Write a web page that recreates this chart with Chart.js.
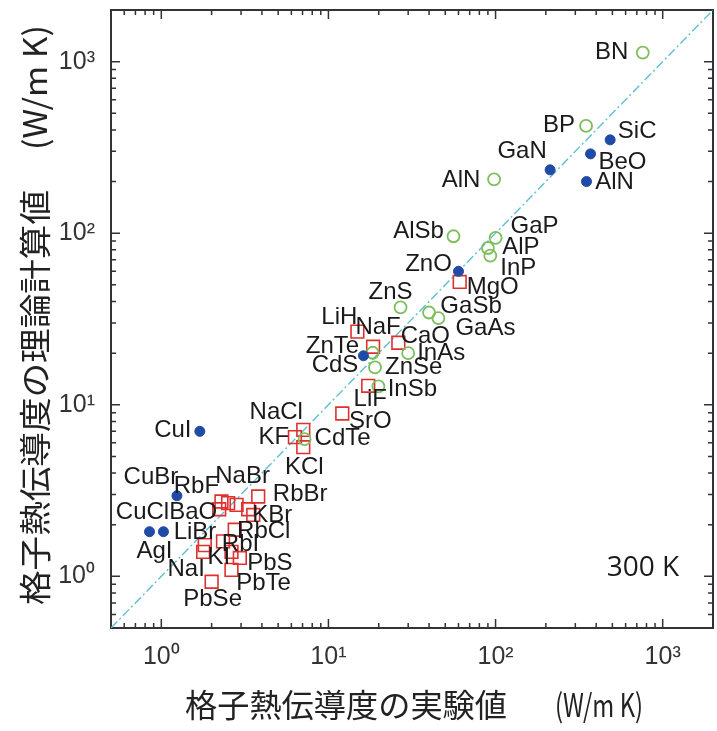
<!DOCTYPE html>
<html lang="ja">
<head>
<meta charset="utf-8">
<title>格子熱伝導度 実験値と理論計算値</title>
<script src="https://cdn.jsdelivr.net/npm/chart.js@4.4.1/dist/chart.umd.min.js"></script>
<style>
	html, body { margin: 0; padding: 0; background: #fff; }
	#wrap { width: 717px; height: 731px; }
</style>
</head>
<body>
<div id="wrap"><canvas id="kappaChart" width="717" height="731"></canvas></div>
<script>
// axis range and ticks (both axes, W/m K)
const axisMin = 0.5;
const axisMax = 2000;
const tickValues = [1, 10, 100, 1000];
const tickLabels = ["10⁰", "10¹", "10²", "10³"];

// blue filled circles
const blueNames = ["AlN", "BeO", "SiC", "GaN", "ZnO", "ZnTe", "CuI", "CuBr", "CuCl", "AgI"];
const blueExp   = [350, 370, 485, 212, 60, 16.2, 1.7, 1.24, 0.85, 1.03];
const blueCalc  = [200, 290, 350, 234, 60, 19.3, 7.0, 2.95, 1.82, 1.82];

// green open circles
const greenNames = ["BN", "BP", "AlN", "AlSb", "GaP", "AlP", "InP", "ZnS", "GaSb", "GaAs", "InAs", "CdS", "ZnSe", "InSb", "CdTe"];
const greenExp   = [760, 348, 98, 56, 100, 90, 93, 27, 40, 45.5, 30, 19, 18.4, 19.9, 7.2];
const greenCalc  = [1130, 422, 206, 96, 94, 82, 74, 37, 34.5, 32, 20, 16.5, 20.1, 12.8, 6.3];

// red open squares
const redNames = ["MgO", "LiH", "NaF", "CaO", "LiF", "SrO", "NaCl", "KF", "KCl", "RbF", "BaO", "NaBr", "", "RbBr", "KBr", "", "RbCl", "LiBr", "RbI", "KI", "NaI", "PbS", "PbTe", "PbSe"];
const redExp   = [61, 14.9, 18.5, 26.2, 17.3, 12.1, 7.07, 6.3, 7.07, 2.29, 2.22, 2.82, 2.51, 3.8, 3.31, 3.55, 2.75, 2.34, 2.63, 1.82, 1.78, 2.95, 2.63, 2.0];
const redCalc  = [52, 26.7, 21.8, 23, 12.9, 8.9, 7.14, 6.48, 5.66, 2.73, 2.46, 2.61, 2.67, 2.92, 2.46, 2.28, 1.87, 1.6, 1.39, 1.52, 1.39, 1.28, 1.09, 0.93];

// y = x guide
const diagonal = [axisMin, axisMax];

// label placement: pixel shift from marker centre to label centre
const blueShift = [[28, 1], [32, 8], [27, -8], [-28, -18], [-30, -7], [-31, -9], [-27, -1], [-26, -18], [-7, -19], [-9, 20]];
const greenShift = [[-31, 0], [-27, -1], [-33, 1], [-35, -5], [39, -11], [33, -1], [28, 13], [-10, -15], [42, -6], [47, 10], [33, 0], [-40, -2], [41, 15], [34, 3], [38, -1]];
const redShift = [[33, 5], [-18, -14], [5, -19], [27, -6], [2, 14], [28, 8], [-27, -18], [-21, 0], [1, 20], [-25, -15], [-26, 3], [6, -28], [0, 0], [42, -2], [24, 6], [0, 0], [29, 2], [-28, -9], [9, -7], [14, 12], [-17, 18], [30, 5], [32, 13], [1, 18]];

function toPoints(xs, ys) {
	return xs.map((v, i) => ({ x: v, y: ys[i] }));
}

// stretch a string horizontally to a given width
function fitText(ctx, text, x, y, w) {
	const natural = ctx.measureText(text).width;
	ctx.save();
	ctx.translate(x, y);
	ctx.scale(w / natural, 1);
	ctx.fillText(text, 0, 0);
	ctx.restore();
}

const frameTicks = {
	id: "frameTicks",
	beforeDatasetsDraw(chart) {
		const { ctx, chartArea: a, scales: { x, y } } = chart;
		ctx.save();
		ctx.strokeStyle = "#333";
		ctx.lineWidth = 1.5;
		ctx.beginPath();
		for (let d = 0.1; d <= 1000; d *= 10) {
			for (let m = 1; m <= 9; m++) {
				const v = d * m;
				if (v <= axisMin || v >= axisMax) continue;
				const len = m === 1 ? 9 : 5;
				const px = x.getPixelForValue(v);
				const py = y.getPixelForValue(v);
				ctx.moveTo(px, a.bottom); ctx.lineTo(px, a.bottom - len);
				ctx.moveTo(px, a.top); ctx.lineTo(px, a.top + len);
				ctx.moveTo(a.left, py); ctx.lineTo(a.left + len, py);
				ctx.moveTo(a.right, py); ctx.lineTo(a.right - len, py);
			}
		}
		ctx.stroke();
		ctx.lineWidth = 2;
		ctx.strokeRect(a.left, a.top, a.right - a.left, a.bottom - a.top);
		ctx.restore();
	}
};

const textLayer = {
	id: "textLayer",
	afterDatasetsDraw(chart) {
		const { ctx, chartArea: a } = chart;
		ctx.save();
		ctx.fillStyle = "#1a1a1a";
		ctx.textBaseline = "middle";

		// compound names
		ctx.font = '24px "Liberation Sans", Arial, sans-serif';
		ctx.textAlign = "center";
		chart.data.datasets.forEach((ds, i) => {
			if (!ds.names) return;
			chart.getDatasetMeta(i).data.forEach((pt, j) => {
				const name = ds.names[j];
				if (!name) return;
				const [dx, dy] = ds.shift[j];
				ctx.fillText(name, pt.x + dx, pt.y + dy);
			});
		});

		// temperature note
		ctx.font = '28px "Open Sans", sans-serif';
		ctx.fillText("300 K", a.right - 70, a.bottom - 60);

		// axis titles
		ctx.textAlign = "left";
		ctx.fillStyle = "#222";
		ctx.font = '32px "Noto Sans CJK JP", sans-serif';
		fitText(ctx, "格子熱伝導度の実験値", 185, 705, 322);
		fitText(ctx, "(W/m K)", 555, 705, 88);

		ctx.translate(35, 605);
		ctx.rotate(-Math.PI / 2);
		fitText(ctx, "格子熱伝導度の理論計算値", 0, 0, 415);
		fitText(ctx, "(W/m K)", 455, 0, 125);
		ctx.restore();
	}
};

const tickFont = { family: '"Liberation Sans", Arial, sans-serif', size: 25 };

function logAxis(extra) {
	return Object.assign({
		type: "logarithmic",
		min: axisMin,
		max: axisMax,
		grid: { display: false, drawTicks: false },
		border: { display: false },
		afterBuildTicks: (s) => { s.ticks = tickValues.map((v) => ({ value: v })); },
		ticks: {
			font: tickFont,
			color: "#333",
			autoSkip: false,
			maxRotation: 0,
			callback: (v, i) => tickLabels[i],
		},
	}, extra);
}

// fixed axis sizes, no extra edge padding for the labels
const xAxis = logAxis({
	afterFit: (s) => { s.height = 103; s.paddingLeft = 0; s.paddingRight = 0; },
});
xAxis.ticks.padding = 14;
const yAxis = logAxis({
	afterFit: (s) => { s.width = 111; s.paddingTop = 0; s.paddingBottom = 0; },
});
yAxis.ticks.padding = 16;

new Chart(document.getElementById("kappaChart").getContext("2d"), {
	type: "scatter",
	data: {
		datasets: [
			{
				names: blueNames,
				shift: blueShift,
				data: toPoints(blueExp, blueCalc),
				pointStyle: "circle",
				pointRadius: 5,
				backgroundColor: "#1f4aa5",
				borderColor: "#1f4aa5",
				borderWidth: 1,
				order: 1,
			},
			{
				names: greenNames,
				shift: greenShift,
				data: toPoints(greenExp, greenCalc),
				pointStyle: "circle",
				pointRadius: 6,
				backgroundColor: "rgba(255,255,255,0)",
				borderColor: "#7cbf5c",
				borderWidth: 1.8,
				order: 2,
			},
			{
				names: redNames,
				shift: redShift,
				data: toPoints(redExp, redCalc),
				pointStyle: "rect",
				pointRadius: 9,
				backgroundColor: "rgba(255,255,255,0)",
				borderColor: "#e0302e",
				borderWidth: 1.6,
				order: 3,
			},
			{
				type: "line",
				data: toPoints(diagonal, diagonal),
				borderColor: "#5fbfd0",
				borderWidth: 1.4,
				borderDash: [9, 3, 2, 3],
				pointRadius: 0,
				fill: false,
				order: 10,
			},
		],
	},
	options: {
		responsive: false,
		animation: false,
		layout: { autoPadding: false, padding: { top: 10, right: 4, left: 0, bottom: 0 } },
		plugins: {
			legend: { display: false },
			tooltip: { enabled: false },
		},
		scales: { x: xAxis, y: yAxis },
	},
	plugins: [frameTicks, textLayer],
});
</script>
</body>
</html>
